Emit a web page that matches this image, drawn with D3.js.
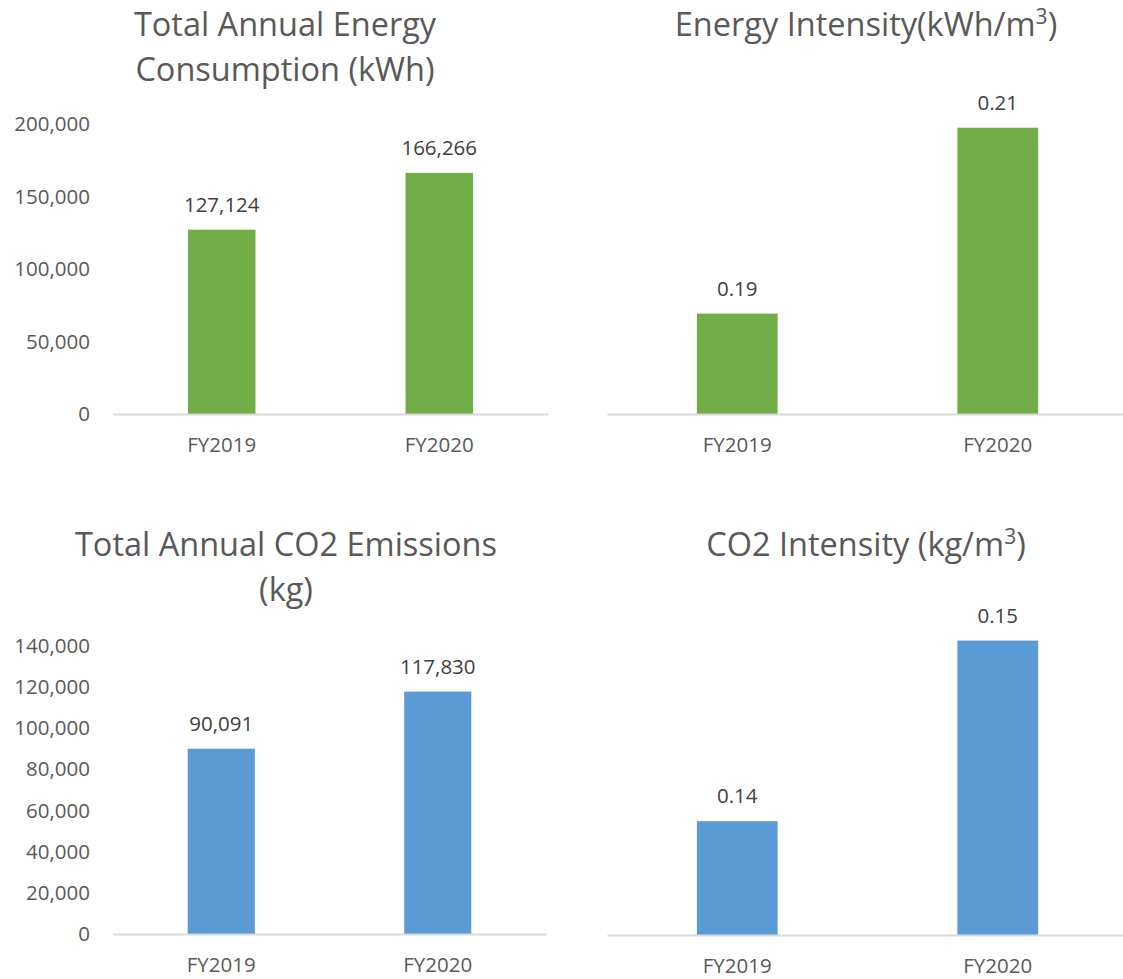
<!DOCTYPE html>
<html>
<head>
<meta charset="utf-8">
<script src="https://cdn.jsdelivr.net/npm/d3@7"></script>
<style>
  html, body { margin: 0; padding: 0; background: #ffffff; }
  svg { display: block; font-family: "Open Sans", "Noto Sans", sans-serif; }
</style>
</head>
<body>
<svg id="chart" width="1123" height="979"></svg>
<script>
// Fiscal years shown on every panel
const categories = ["FY2019", "FY2020"];

// Series values
const energyKwh = [127124, 166266];
const energyIntensity = [0.19, 0.21];
const co2Kg = [90091, 117830];
const co2Intensity = [0.14, 0.15];

// Visible y-axis ticks (left-hand panels only)
const energyTicks = [0, 50000, 100000, 150000, 200000];
const co2Ticks = [0, 20000, 40000, 60000, 80000, 100000, 120000, 140000];

const GREEN = "#70ad47";
const BLUE = "#5b9bd5";
const LABEL_SIZE = 20.5;
const TITLE_SIZE = 32.5;

const panels = [
  {
    title: [["Total Annual Energy"], ["Consumption (kWh)"]],
    titleX: 285, titleY: 36,
    values: energyKwh, ticks: energyTicks, domain: [0, 200000],
    fmt: d3.format(","), color: GREEN,
    x0: 113, x1: 548, base: 414, top: 124, showAxis: true
  },
  {
    title: [["Energy Intensity(kWh/m", "3", ")"]],
    titleX: 866, titleY: 36,
    values: energyIntensity, ticks: null, domain: [0.1792, 0.2104],
    fmt: d3.format(".2f"), color: GREEN,
    x0: 607, x1: 1128, base: 414, top: 124, showAxis: false
  },
  {
    title: [["Total Annual CO2 Emissions"], ["(kg)"]],
    titleX: 286, titleY: 556,
    values: co2Kg, ticks: co2Ticks, domain: [0, 140000],
    fmt: d3.format(","), color: BLUE,
    x0: 113, x1: 546, base: 934, top: 646, showAxis: true
  },
  {
    title: [["CO2 Intensity (kg/m", "3", ")"]],
    titleX: 866, titleY: 556,
    values: co2Intensity, ticks: null, domain: [0.1337, 0.1497],
    fmt: d3.format(".2f"), color: BLUE,
    x0: 607, x1: 1128, base: 935, top: 646, showAxis: false
  }
];

const svg = d3.select("#chart");

panels.forEach(p => {
  const g = svg.append("g");

  const x = d3.scaleBand().domain(categories).range([p.x0, p.x1]).padding(0);
  const y = d3.scaleLinear().domain(p.domain).range([p.base, p.top]);
  const barW = x.bandwidth() * 0.31;

  // Title (one text element per line, optional superscript)
  p.title.forEach((line, i) => {
    const t = g.append("text")
      .attr("x", p.titleX)
      .attr("y", p.titleY + i * 45)
      .attr("text-anchor", "middle")
      .attr("fill", "#595959")
      .attr("font-size", TITLE_SIZE);
    t.append("tspan").text(line[0]);
    if (line.length > 1) {
      t.append("tspan").attr("font-size", 21).attr("dy", -12).text(line[1]);
      t.append("tspan").attr("dy", 12).text(line[2]);
    }
  });

  // Value axis labels
  if (p.showAxis) {
    const yAxis = d3.axisLeft(y)
      .tickValues(p.ticks)
      .tickFormat(d3.format(","))
      .tickSize(0)
      .tickPadding(0);
    const ga = g.append("g")
      .attr("transform", `translate(${p.x0 - 23},0)`)
      .call(yAxis);
    ga.select(".domain").remove();
    ga.selectAll("text")
      .attr("font-family", "\"Open Sans\", \"Noto Sans\", sans-serif")
      .attr("font-size", LABEL_SIZE)
      .attr("fill", "#595959");
  }

  // Bars
  g.selectAll("rect.bar")
    .data(p.values)
    .join("rect")
    .attr("class", "bar")
    .attr("x", (d, i) => x(categories[i]) + x.bandwidth() / 2 - barW / 2)
    .attr("width", barW)
    .attr("y", d => y(d))
    .attr("height", d => p.base - y(d))
    .attr("fill", p.color);

  // Category axis line and labels
  const xAxis = d3.axisBottom(x).tickSize(0).tickPadding(0);
  const gx = g.append("g")
    .attr("transform", `translate(0,${p.base})`)
    .call(xAxis);
  gx.select(".domain")
    .attr("stroke", "#d9d9d9")
    .attr("stroke-width", 2);
  gx.selectAll("text")
    .attr("font-family", "\"Open Sans\", \"Noto Sans\", sans-serif")
    .attr("font-size", LABEL_SIZE)
    .attr("fill", "#595959")
    .attr("dy", 0)
    .attr("y", 38);

  // Data labels above bars
  g.selectAll("text.val")
    .data(p.values)
    .join("text")
    .attr("class", "val")
    .attr("x", (d, i) => x(categories[i]) + x.bandwidth() / 2)
    .attr("y", d => y(d) - 18)
    .attr("text-anchor", "middle")
    .attr("font-size", LABEL_SIZE)
    .attr("fill", "#404040")
    .text(d => p.fmt(d));
});
</script>
</body>
</html>
